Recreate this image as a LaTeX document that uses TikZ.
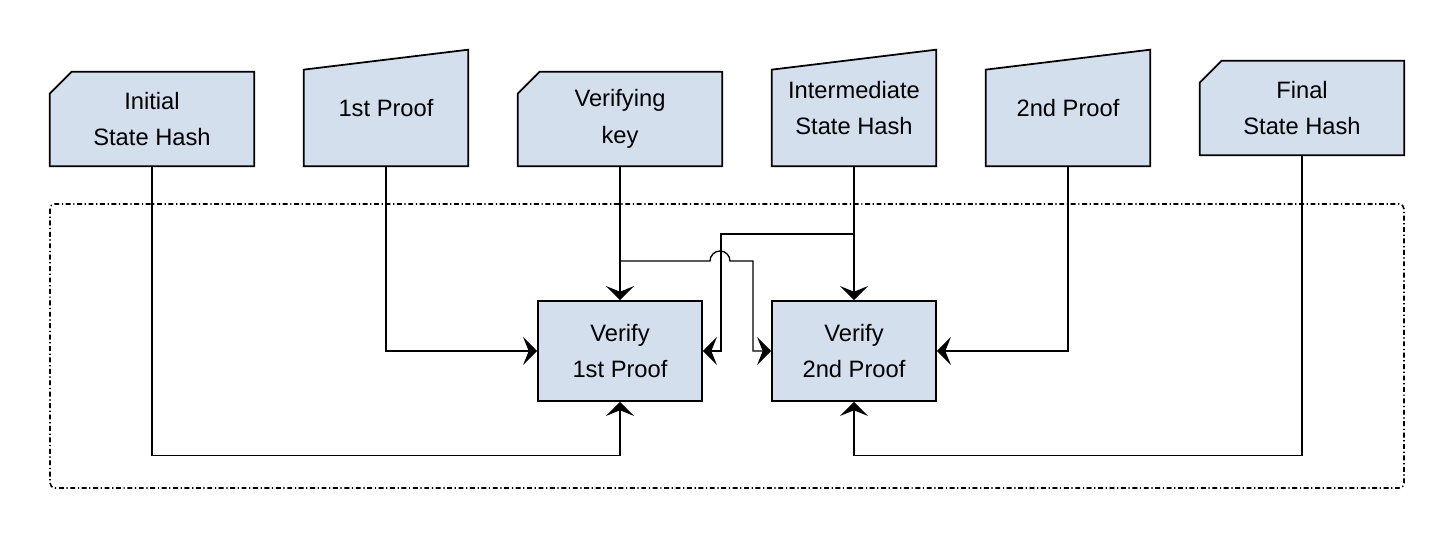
\documentclass[tikz,border=0pt]{standalone}
\usepackage{fontspec}
\setmainfont{Liberation Sans}
\usetikzlibrary{arrows.meta, backgrounds}
\definecolor{boxfill}{RGB}{212,223,238}

\begin{document}
\begin{tikzpicture}[x=0.02cm, y=-0.02cm,
    label text/.style={align=center, inner sep=0pt,
        font=\fontsize{13.5}{21}\selectfont},
    card box/.style={label text, minimum width=4.08cm, minimum height=1.88cm},
    input box/.style={label text, minimum width=3.28cm, minimum height=2.32cm},
    step box/.style={label text, draw=black, fill=boxfill, line width=1pt,
        minimum width=3.28cm, minimum height=2cm},
    shape line/.style={draw=black, fill=boxfill, line width=1pt},
    wire/.style={line width=0.75pt},
    arrowed/.style={-{Stealth[length=8pt, width=16pt, inset=3.2pt]}}
]
    % Globals
    \pgfmathsetmacro{\cardCut}{0.44}
    \pgfmathsetmacro{\inputDrop}{0.4}

    \useasboundingbox (0,0) rectangle (1454,538);

    % Inputs
    \node[card box]  (INIT_HASH)  at (152,119)  {Initial\\State Hash};
    \node[input box] (PROOF_1)    at (386,108)  {1st Proof};
    \node[card box]  (VER_KEY)    at (620,119)  {Verifying\\key};
    \node[input box] (MID_HASH)   at (854,108)  {Intermediate\\State Hash};
    \node[input box] (PROOF_2)    at (1068,108) {2nd Proof};
    \node[card box]  (FINAL_HASH) at (1302,108) {Final\\State Hash};

    % Circuit
    \draw[line width=0.9pt, rounded corners=0.1cm, dash pattern=on 2.8pt off 1.5pt on 0.7pt off 1.5pt]
        (50,204) rectangle (1404,488);
    \node[step box] (VERIFY_1) at (620,351) {Verify\\1st Proof};
    \node[step box] (VERIFY_2) at (854,351) {Verify\\2nd Proof};

    \begin{scope}[on background layer]
        \draw[shape line] ([yshift=-\cardCut cm]INIT_HASH.north west) -- ([xshift=\cardCut cm]INIT_HASH.north west)
            -- (INIT_HASH.north east) -- (INIT_HASH.south east) -- (INIT_HASH.south west) -- cycle;
        \draw[shape line] ([yshift=-\cardCut cm]VER_KEY.north west) -- ([xshift=\cardCut cm]VER_KEY.north west)
            -- (VER_KEY.north east) -- (VER_KEY.south east) -- (VER_KEY.south west) -- cycle;
        \draw[shape line] ([yshift=-\cardCut cm]FINAL_HASH.north west) -- ([xshift=\cardCut cm]FINAL_HASH.north west)
            -- (FINAL_HASH.north east) -- (FINAL_HASH.south east) -- (FINAL_HASH.south west) -- cycle;
        \draw[shape line] (PROOF_1.south west) -- ([yshift=-\inputDrop cm]PROOF_1.north west)
            -- (PROOF_1.north east) -- (PROOF_1.south east) -- cycle;
        \draw[shape line] (MID_HASH.south west) -- ([yshift=-\inputDrop cm]MID_HASH.north west)
            -- (MID_HASH.north east) -- (MID_HASH.south east) -- cycle;
        \draw[shape line] (PROOF_2.south west) -- ([yshift=-\inputDrop cm]PROOF_2.north west)
            -- (PROOF_2.north east) -- (PROOF_2.south east) -- cycle;
    \end{scope}

    \coordinate (SPLIT_KEY) at (620,261);
    \coordinate (SPLIT_MID) at (854,234);

    % Wires
    \draw[wire, arrowed] (INIT_HASH.south) -- ++(0,289) -| (VERIFY_1.south);
    \draw[wire, arrowed] (PROOF_1.south) |- (VERIFY_1.west);
    \draw[wire, arrowed] (VER_KEY.south) -- (VERIFY_1.north);
    \draw[wire, arrowed] (MID_HASH.south) -- (VERIFY_2.north);
    \draw[wire, arrowed] (PROOF_2.south) |- (VERIFY_2.east);
    \draw[wire, arrowed] (FINAL_HASH.south) -- ++(0,300) -| (VERIFY_2.south);
    \draw[wire, arrowed] (SPLIT_MID) -| ([xshift=0.36cm]VERIFY_1.east) -- (VERIFY_1.east);
    \draw[wire, arrowed] (SPLIT_KEY) -- (710,261) arc[start angle=180, end angle=0, radius=0.2cm]
        -- (753,261) |- (VERIFY_2.west);

\end{tikzpicture}
\end{document}
